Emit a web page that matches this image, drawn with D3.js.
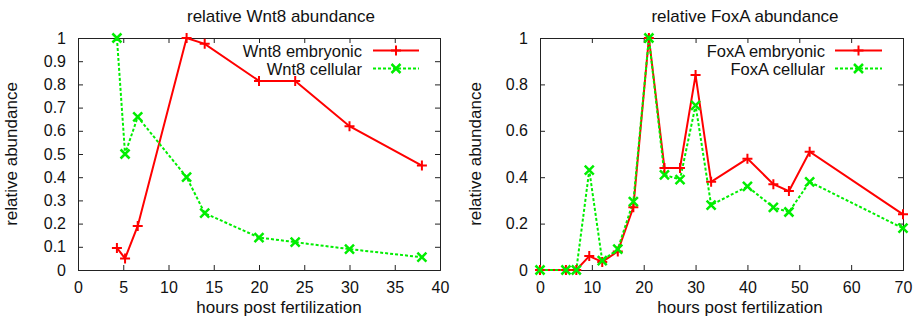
<!DOCTYPE html>
<html>
<head>
<meta charset="utf-8">
<script src="https://cdn.jsdelivr.net/npm/d3@7"></script>
<style>
  body { margin: 0; background: #fff; }
  svg text { font-family: "Liberation Sans", Arial, sans-serif; fill: #111; }
</style>
</head>
<body>
<svg id="chart" width="917" height="320"></svg>
<script>
// Wnt8 panel
const wntHours = [4.3, 5.2, 6.6, 12, 14, 20, 24, 30, 38];
const wntEmbryonic = [0.095, 0.05, 0.19, 1.0, 0.975, 0.815, 0.815, 0.62, 0.45];
const wntCellular = [1.0, 0.5, 0.66, 0.40, 0.245, 0.14, 0.12, 0.09, 0.055];
const wntXTicks = [0, 5, 10, 15, 20, 25, 30, 35, 40];
const wntYTicks = [0, 0.1, 0.2, 0.3, 0.4, 0.5, 0.6, 0.7, 0.8, 0.9, 1];

// FoxA panel
const foxHours = [0, 5, 7, 9.5, 12, 15, 18, 21, 24, 27, 30, 33, 40, 45, 48, 52, 70];
const foxEmbryonic = [0, 0, 0, 0.06, 0.035, 0.08, 0.27, 1.0, 0.44, 0.44, 0.84, 0.38, 0.48, 0.37, 0.34, 0.51, 0.24];
const foxCellular = [0, 0, 0, 0.43, 0.04, 0.09, 0.295, 1.0, 0.41, 0.39, 0.71, 0.28, 0.36, 0.27, 0.25, 0.38, 0.18];
const foxXTicks = [0, 10, 20, 30, 40, 50, 60, 70];
const foxYTicks = [0, 0.2, 0.4, 0.6, 0.8, 1];

const svg = d3.select('#chart');

const panels = [
  {
    title: 'relative Wnt8 abundance', left: 78, right: 440, xMax: 40,
    xTicks: wntXTicks, yTicks: wntYTicks, hours: wntHours,
    emb: wntEmbryonic, cel: wntCellular,
    names: ['Wnt8 embryonic', 'Wnt8 cellular'],
    titleX: 281, xLabelX: 279, yLabelX: 17, legendTextX: 362, legendLine: [373, 419]
  },
  {
    title: 'relative FoxA abundance', left: 540, right: 903, xMax: 70,
    xTicks: foxXTicks, yTicks: foxYTicks, hours: foxHours,
    emb: foxEmbryonic, cel: foxCellular,
    names: ['FoxA embryonic', 'FoxA cellular'],
    titleX: 745, xLabelX: 740, yLabelX: 481, legendTextX: 825, legendLine: [835, 882]
  }
];

const plotTop = 38, plotBottom = 270;

function plus(x, y, s) {
  return `M${x - s},${y}H${x + s}M${x},${y - s}V${y + s}`;
}
function cross(x, y, s) {
  return `M${x - s},${y - s}L${x + s},${y + s}M${x - s},${y + s}L${x + s},${y - s}`;
}

panels.forEach(p => {
  const x = d3.scaleLinear().domain([0, p.xMax]).range([p.left, p.right]);
  const y = d3.scaleLinear().domain([0, 1]).range([plotBottom, plotTop]);
  const g = svg.append('g');

  // axes (gnuplot style, inward ticks, mirrored)
  const fmt = d3.format('');
  g.append('g').attr('transform', `translate(0,${plotBottom})`)
    .call(d3.axisBottom(x).tickValues(p.xTicks).tickSize(-5).tickPadding(12).tickFormat(fmt));
  g.append('g').attr('transform', `translate(0,${plotTop})`)
    .call(d3.axisTop(x).tickValues(p.xTicks).tickSize(-5).tickFormat(''));
  g.append('g').attr('transform', `translate(${p.left},0)`)
    .call(d3.axisLeft(y).tickValues(p.yTicks).tickSize(-5).tickPadding(12).tickFormat(fmt));
  g.append('g').attr('transform', `translate(${p.right},0)`)
    .call(d3.axisRight(y).tickValues(p.yTicks).tickSize(-5).tickFormat(''));
  g.selectAll('.domain').attr('stroke', '#222');
  g.selectAll('.tick line').attr('stroke', '#222');
  g.selectAll('.tick text').style('font-size', '16px').attr('fill', '#111');

  g.append('text').attr('x', p.titleX).attr('y', 22).attr('text-anchor', 'middle')
    .style('font-size', '17px').text(p.title);
  g.append('text').attr('x', p.xLabelX).attr('y', 313).attr('text-anchor', 'middle')
    .style('font-size', '17px').text('hours post fertilization');
  g.append('text').attr('transform', `translate(${p.yLabelX},154) rotate(-90)`)
    .attr('text-anchor', 'middle').style('font-size', '17px').text('relative abundance');

  const line = d3.line().x(d => x(d[0])).y(d => y(d[1]));
  const emb = p.hours.map((h, i) => [h, p.emb[i]]);
  const cel = p.hours.map((h, i) => [h, p.cel[i]]);

  g.append('path').datum(emb).attr('d', line).attr('fill', 'none')
    .attr('stroke', '#ff0000').attr('stroke-width', 2);
  g.append('path').datum(cel).attr('d', line).attr('fill', 'none')
    .attr('stroke', '#00ee00').attr('stroke-width', 2).attr('stroke-dasharray', '3,2');

  g.append('g').selectAll('path').data(emb).join('path')
    .attr('d', d => plus(x(d[0]), y(d[1]), 5))
    .attr('stroke', '#ff0000').attr('stroke-width', 2);
  g.append('g').selectAll('path').data(cel).join('path')
    .attr('d', d => cross(x(d[0]), y(d[1]), 4.5))
    .attr('stroke', '#00ee00').attr('stroke-width', 2.5);

  // legend
  const legendY = [50.5, 68.5];
  const lx0 = p.legendLine[0], lx1 = p.legendLine[1], lm = (lx0 + lx1) / 2;
  g.append('text').attr('x', p.legendTextX).attr('y', legendY[0] + 6).attr('text-anchor', 'end')
    .style('font-size', '16.5px').text(p.names[0]);
  g.append('text').attr('x', p.legendTextX).attr('y', legendY[1] + 6).attr('text-anchor', 'end')
    .style('font-size', '16.5px').text(p.names[1]);
  g.append('line').attr('x1', lx0).attr('x2', lx1).attr('y1', legendY[0]).attr('y2', legendY[0])
    .attr('stroke', '#ff0000').attr('stroke-width', 2);
  g.append('path').attr('d', plus(lm, legendY[0], 5)).attr('stroke', '#ff0000').attr('stroke-width', 2);
  g.append('line').attr('x1', lx0).attr('x2', lx1).attr('y1', legendY[1]).attr('y2', legendY[1])
    .attr('stroke', '#00ee00').attr('stroke-width', 2).attr('stroke-dasharray', '3,2');
  g.append('path').attr('d', cross(lm, legendY[1], 4.5)).attr('stroke', '#00ee00').attr('stroke-width', 2.5);
});
</script>
</body>
</html>
